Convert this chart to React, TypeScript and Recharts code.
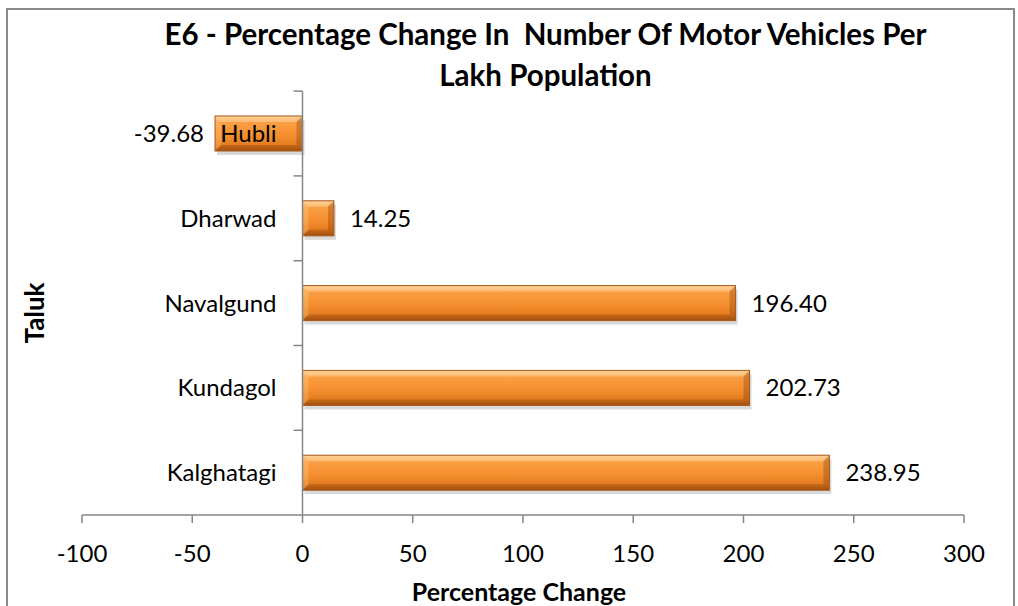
import React from 'react';
import { BarChart, Bar, XAxis, YAxis, ReferenceLine, LabelList } from 'recharts';

const taluks = ['Hubli', 'Dharwad', 'Navalgund', 'Kundagol', 'Kalghatagi'];
const changes = [-39.68, 14.25, 196.4, 202.73, 238.95];
const xTicks = [-100, -50, 0, 50, 100, 150, 200, 250, 300];

const data = taluks.map((name, i) => ({ name, value: changes[i] }));

const FONT = 'Lato, "Open Sans", sans-serif';
const AXIS = '#868686';
const PLOT_TOP = 91;
const PLOT_BOTTOM = 515;
const BAND = (PLOT_BOTTOM - PLOT_TOP) / taluks.length;

const span = (x: number, width: number) => {
  const left = Math.min(x, x + width);
  const right = Math.max(x, x + width);
  return { left, right };
};

const BevelBar = (props: any) => {
  const { x, y, width, height, index } = props;
  const { left, right } = span(x, width);
  const w = right - left;
  const h = height;
  const b = Math.min(6, w / 2);
  const id = `barFill-${index}`;
  return (
    <g>
      <defs>
        <linearGradient id={id} x1="0" y1="0" x2="0" y2="1">
          <stop offset="0%" stopColor="#fcc583" />
          <stop offset="18%" stopColor="#fa9f45" />
          <stop offset="55%" stopColor="#f58f2e" />
          <stop offset="85%" stopColor="#e27a1f" />
          <stop offset="100%" stopColor="#b65e17" />
        </linearGradient>
      </defs>
      <rect x={left + 2} y={y + 4} width={w} height={h} fill="rgba(0,0,0,0.15)" />
      <rect x={left} y={y} width={w} height={h} fill={`url(#${id})`} />
      <polygon
        points={`${left},${y} ${right},${y} ${right - b},${y + b} ${left + b},${y + b}`}
        fill="rgba(255,235,190,0.35)"
      />
      <polygon
        points={`${left},${y + h} ${right},${y + h} ${right - b},${y + h - b} ${left + b},${y + h - b}`}
        fill="rgba(110,45,0,0.28)"
      />
      <polygon
        points={`${left},${y} ${left + b},${y + b} ${left + b},${y + h - b} ${left},${y + h}`}
        fill="rgba(255,225,170,0.25)"
      />
      <polygon
        points={`${right},${y} ${right - b},${y + b} ${right - b},${y + h - b} ${right},${y + h}`}
        fill="rgba(120,50,0,0.3)"
      />
      <rect x={left} y={y} width={w} height={h} fill="none" stroke="#a8581a" strokeWidth={1} />
    </g>
  );
};

const CategoryLabel = (props: any) => {
  const { x, y, width, height, value } = props;
  const v = changes[taluks.indexOf(value)];
  const { left, right } = span(x, width);
  const zeroX = v < 0 ? right : left;
  const cy = y + height / 2;
  const top = cy - BAND / 2;
  return (
    <g>
      <line x1={zeroX - 9} x2={zeroX} y1={top} y2={top} stroke={AXIS} strokeWidth={1.5} />
      <text
        x={zeroX - 26}
        y={cy}
        dy="0.35em"
        textAnchor="end"
        fontFamily={FONT}
        fontSize={24}
        fill="#000"
      >
        {value}
      </text>
    </g>
  );
};

const ValueLabel = (props: any) => {
  const { x, y, width, height, value } = props;
  const { left, right } = span(x, width);
  const cy = y + height / 2;
  const neg = value < 0;
  return (
    <text
      x={neg ? left - 11 : right + 16}
      y={cy}
      dy="0.35em"
      textAnchor={neg ? 'end' : 'start'}
      fontFamily={FONT}
      fontSize={24}
      fill="#000"
    >
      {Number(value).toFixed(2)}
    </text>
  );
};

export default function App() {
  return (
    <div
      style={{
        position: 'absolute',
        left: 0,
        top: 0,
        width: 1018,
        height: 606,
        background: '#fff',
        overflow: 'hidden',
        fontFamily: FONT,
      }}
    >
      <div
        style={{
          position: 'absolute',
          left: 6,
          top: 8,
          width: 1009,
          height: 620,
          border: '2px solid #898989',
          boxSizing: 'border-box',
        }}
      />
      <div
        style={{
          position: 'absolute',
          left: 0,
          width: 1091,
          top: 13,
          textAlign: 'center',
          fontWeight: 'bold',
          fontSize: 29.5,
          lineHeight: '41px',
          color: '#000',
          whiteSpace: 'nowrap',
        }}
      >
        E6 - Percentage Change In&nbsp; Number Of Motor Vehicles Per
        <br />
        Lakh Population
      </div>
      <div
        style={{
          position: 'absolute',
          left: 34,
          top: 313,
          transform: 'translate(-50%, -50%) rotate(-90deg)',
          fontWeight: 'bold',
          fontSize: 26,
          color: '#000',
        }}
      >
        Taluk
      </div>
      <div
        style={{
          position: 'absolute',
          left: 519,
          top: 591,
          transform: 'translate(-50%, -50%)',
          fontWeight: 'bold',
          fontSize: 25,
          color: '#000',
          whiteSpace: 'nowrap',
        }}
      >
        Percentage Change
      </div>
      <div style={{ position: 'absolute', left: 0, top: 0 }}>
        <BarChart
          width={1018}
          height={606}
          data={data}
          layout="vertical"
          margin={{ top: PLOT_TOP, right: 54, left: 82, bottom: 606 - PLOT_BOTTOM - 40 }}
        >
          <XAxis
            type="number"
            domain={[-100, 300]}
            ticks={xTicks}
            allowDataOverflow
            height={40}
            stroke={AXIS}
            strokeWidth={1.5}
            tickSize={8}
            tickMargin={22}
            tick={{ fill: '#000', fontSize: 24, fontFamily: FONT }}
          />
          <YAxis type="category" dataKey="name" hide />
          <ReferenceLine x={0} stroke={AXIS} strokeWidth={1.5} />
          <Bar dataKey="value" barSize={35} shape={BevelBar} isAnimationActive={false}>
            <LabelList dataKey="name" content={CategoryLabel} />
            <LabelList dataKey="value" content={ValueLabel} />
          </Bar>
        </BarChart>
      </div>
    </div>
  );
}
